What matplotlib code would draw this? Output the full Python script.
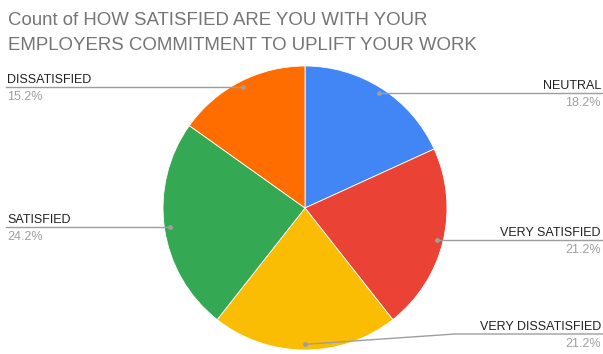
import numpy as np
import matplotlib
matplotlib.use("Agg")
import matplotlib.pyplot as plt

# responses per answer, clockwise from 12 o'clock
labels = ["NEUTRAL", "VERY SATISFIED", "VERY DISSATISFIED", "SATISFIED", "DISSATISFIED"]
counts = [6, 7, 7, 8, 5]
colors = ["#4285F4", "#EA4335", "#FBBC04", "#34A853", "#FF6D01"]

title_lines = ["Count of HOW SATISFIED ARE YOU WITH YOUR",
               "EMPLOYERS COMMITMENT TO UPLIFT YOUR WORK"]

W, H = 603, 354
plt.rcParams["font.family"] = ["Liberation Sans", "DejaVu Sans"]

fig = plt.figure(figsize=(W / 100, H / 100), dpi=100)
ax = fig.add_axes([0, 0, 1, 1])

cx, cy, r = 305, H - 208, 142
wedges, _ = ax.pie(counts, colors=colors, startangle=90, counterclock=False,
                   center=(cx, cy), radius=r, frame=True,
                   wedgeprops=dict(linewidth=0.6, edgecolor="white"))
ax.set_xlim(0, W)
ax.set_ylim(0, H)
ax.set_aspect("equal")
ax.axis("off")

total = sum(counts)
# which side each label sits on; the bottom one is pulled up to this height
sides = ["right", "right", "right", "left", "left"]
raised = {"VERY DISSATISFIED": H - 334}
line_col = "#9e9e9e"

for w, lab, n, side in zip(wedges, labels, counts, sides):
    mid = np.deg2rad((w.theta1 + w.theta2) / 2)
    dx = cx + 0.96 * r * np.cos(mid)
    dy = cy + 0.96 * r * np.sin(mid)
    yy = raised.get(lab, dy)
    if side == "right":
        xe = W
        if lab in raised:
            ax.plot([dx, cx + 150, xe], [dy, yy, yy], color=line_col, lw=1, zorder=3)
        else:
            ax.plot([dx, xe], [yy, yy], color=line_col, lw=1, zorder=3)
        tx, ha = W - 2, "right"
    else:
        ax.plot([dx, 6], [yy, yy], color=line_col, lw=1, zorder=3)
        tx, ha = 7, "left"
    ax.plot(dx, dy, "o", color=line_col, ms=2.5, zorder=4)
    ax.text(tx, yy + 4, lab, ha=ha, va="baseline", fontsize=9, color="#222222")
    ax.text(tx, yy - 13, f"{100 * n / total:.1f}%", ha=ha, va="baseline",
            fontsize=9, color="#a0a0a0")

for i, line in enumerate(title_lines):
    fig.text(8 / W, 1 - (25 + 25 * i) / H, line, ha="left", va="baseline",
             fontsize=13.4, color="#757575")

fig.savefig("out.png", dpi=100, facecolor="white")
